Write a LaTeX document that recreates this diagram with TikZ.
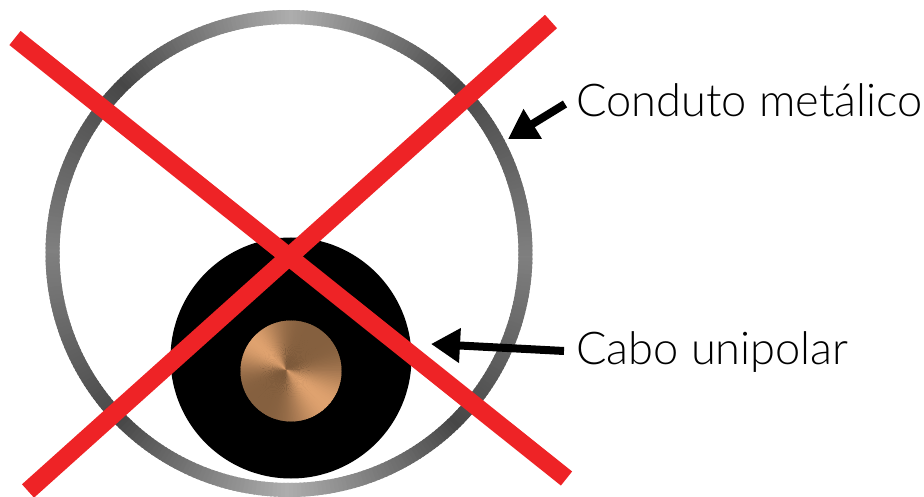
\documentclass[tikz,border=0pt]{standalone}
\usepackage{fontspec}
\setmainfont{Lato}[UprightFont=* Light]
\usepackage{xcolor}
\usetikzlibrary{arrows.meta}
\definecolor{crossred}{HTML}{EE2326}
\definecolor{copperlight}{HTML}{DFA26F}
\definecolor{copperdark}{HTML}{85603F}

\tikzset{
  crossline/.style={crossred,line width=18pt},
  callout/.style={-{Triangle[length=29pt,width=33pt]},line width=8pt,black},
  partlabel/.style={anchor=west,inner sep=0pt,font=\fontsize{45.2}{46}\selectfont},
}

\begin{document}
\begin{tikzpicture}[x=1pt,y=-1pt]
  \useasboundingbox (0,0) rectangle (924,497);
  % metal ring, grey changes round the circle
  \foreach \a in {0,1,...,359}{
    \pgfmathsetmacro{\dist}{abs(mod(\a,180)-90)}
    \pgfmathsetmacro{\shade}{\dist<45 ? 32+0.89*\dist : 72-0.49*(\dist-45)}
    \draw[black!\shade!white,line width=14pt] (289,253.5) ++(\a:236.5) arc (\a:\a+1.5:236.5);
  }
  % cable
  \fill[black] (291,358) circle (120.5);
  % copper core
  \begin{scope}
    \clip (291,371) circle (50.5);
    \foreach \a in {0,2,...,358}{
      \pgfmathsetmacro{\shade}{25*(1+cos(2*(\a-40)))^2}
      \fill[copperlight!\shade!copperdark] (286,369.5) -- ++(\a:62) arc (\a:\a+3:62) -- cycle;
    }
  \end{scope}
  % cross
  \coordinate (crossA) at (15,38);
  \coordinate (crossB) at (566.5,478.5);
  \coordinate (crossC) at (551,21.5);
  \coordinate (crossD) at (28,491);
  \draw[crossline] (crossA) -- (crossB);
  \draw[crossline] (crossC) -- (crossD);
  % labels
  \node[partlabel] (conduto) at (576,100) {Conduto metálico};
  \node[partlabel] (cabo) at (576,352) {Cabo unipolar};
  \coordinate (condutotail) at (565,104);
  \coordinate (condutotip) at (508,139);
  \coordinate (cabotail) at (564,351);
  \coordinate (cabotip) at (431,344);
  \draw[callout] (condutotail) -- (condutotip);
  \draw[callout] (cabotail) -- (cabotip);
\end{tikzpicture}
\end{document}
